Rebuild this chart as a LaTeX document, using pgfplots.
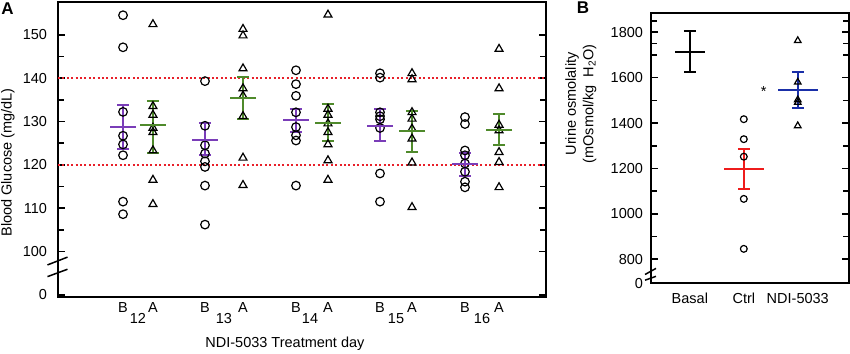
\documentclass[border=0pt]{standalone}
\usepackage{pgfplots}
\pgfplotsset{compat=1.18}
\usepackage{fontspec}
\setmainfont{Liberation Sans}
\definecolor{bpurple}{HTML}{7A3DB8}
\definecolor{agreen}{HTML}{4F8A2B}
\definecolor{limred}{HTML}{E8202A}
\definecolor{cred}{HTML}{EE1C1C}
\definecolor{nblue}{HTML}{1A2FA8}
\pgfplotsset{
  meanstyle/.style 2 args={only marks, color=#2, mark=-, mark size=#1, mark options={line width=2pt, #2},
    error bars/.cd, y dir=both, y explicit,
    error bar style={line width=2pt, #2},
    error mark options={rotate=90, line width=2pt, mark size=6pt, #2}},
  circ/.style={only marks, mark=o, mark size=#1, mark options={line width=1.2pt, black}},
  tri/.style={only marks, mark=triangle, mark size=#1, mark options={line width=1.2pt, black}},
}
\begin{document}
\fontsize{14.5}{17.5}\selectfont
\begin{tikzpicture}
\useasboundingbox (0,0) rectangle (850pt,353pt);
% ---------------- Panel A ----------------
\begin{axis}[
  at={(58pt,56pt)}, anchor=south west,
  scale only axis, width=488pt, height=295pt,
  xmin=11.07, xmax=16.744, ymin=89.5, ymax=157.55,
  axis line style={line width=1.8pt},
  tick align=inside,
  ytick={90,100,110,120,130,140,150},
  yticklabels={0,100,110,120,130,140,150},
  minor ytick={105,115,125,135,145},
  major tick length=7pt, minor tick length=6pt,
  tick style={line width=1.6pt, black},
  yticklabel style={xshift=-6pt},
  /pgf/number format/assume math mode=true,
  xtick={11.826,12.174,12.779,13.221,13.837,14.209,14.814,15.186,15.802,16.198},
  xticklabels={B,A,B,A,B,A,B,A,B,A},
  xtick style={draw=none},
  extra x ticks={12,13,14,15,16},
  extra x tick labels={12,13,14,15,16},
  extra x tick style={major tick length=0pt, tick label style={yshift=-11pt}},
  xlabel={NDI-5033 Treatment day},
  xlabel style={at={(axis description cs:0.465,-0.159)}, anchor=center},
  ylabel={Blood Glucose (mg/dL)},
  ylabel style={at={(axis description cs:-0.1025,0.456)}, anchor=center, rotate=0},
  clip=false,
]
\addplot[limred, line width=2pt, dash pattern=on 2pt off 2.4pt] coordinates {(11.07,140) (16.744,140)};
\addplot[limred, line width=2pt, dash pattern=on 2pt off 2.4pt] coordinates {(11.07,120) (16.744,120)};
% Before (circles)
\addplot[circ=4.3pt] coordinates {
 (11.826,154.5) (11.826,147.1) (11.826,132.2) (11.826,126.7) (11.826,124.7) (11.826,122.2) (11.826,111.5) (11.826,108.6)
 (12.779,139.3) (12.779,129.0) (12.779,124.5) (12.779,122.6) (12.779,120.8) (12.779,119.5) (12.779,115.2) (12.779,106.2)
 (13.837,141.8) (13.837,138.6) (13.837,135.9) (13.837,132.1) (13.837,128.7) (13.837,126.8) (13.837,125.6) (13.837,115.2)
 (14.814,141.1) (14.814,140.1) (14.814,132.1) (14.814,131.2) (14.814,130.5) (14.814,128.5) (14.814,118.0) (14.814,111.5)
 (15.802,131.0) (15.802,129.4) (15.802,123.3) (15.802,122.2) (15.802,120.3) (15.802,118.4) (15.802,116.1) (15.802,114.8)
};
% After (triangles)
\addplot[tri=4.6pt] coordinates {
 (12.174,152.4) (12.174,133.5) (12.174,131.5) (12.174,128.5) (12.174,127.5) (12.174,123.3) (12.174,116.5) (12.174,110.9)
 (13.221,151.3) (13.221,149.8) (13.221,142.2) (13.221,137.6) (13.221,135.9) (13.221,131.2) (13.221,121.6) (13.221,115.3)
 (14.209,154.6) (14.209,132.9) (14.209,131.5) (14.209,129.5) (14.209,127.5) (14.209,124.7) (14.209,121.0) (14.209,116.5)
 (15.186,141.1) (15.186,139.7) (15.186,132.1) (15.186,130.6) (15.186,128.3) (15.186,126.0) (15.186,120.5) (15.186,110.2)
 (16.198,146.7) (16.198,137.6) (16.198,129.2) (16.198,127.9) (16.198,122.9) (16.198,120.6) (16.198,114.8)
};
% means +- SEM
\addplot[meanstyle={13pt}{bpurple}] coordinates {
 (11.826,128.6) += (0,5.2) -= (0,4.9)
 (12.779,125.8) += (0,3.8) -= (0,3.6)
 (13.837,130.3) += (0,2.6) -= (0,2.8)
 (14.814,129.0) += (0,3.9) -= (0,3.6)
 (15.802,120.1) += (0,2.6) -= (0,2.8)
};
\addplot[meanstyle={13pt}{agreen}] coordinates {
 (12.174,129.2) += (0,5.4) -= (0,6.4)
 (13.221,135.4) += (0,4.8) -= (0,4.8)
 (14.209,129.6) += (0,4.4) -= (0,4.0)
 (15.186,127.7) += (0,4.8) -= (0,4.8)
 (16.198,128.1) += (0,3.6) -= (0,3.5)
};
% axis break marks
\draw[line width=1.5pt] ([xshift=-10.5pt]axis cs:11.07,96.9) -- ([xshift=9.5pt]axis cs:11.07,98.7);
\draw[line width=1.5pt] ([xshift=-10.5pt]axis cs:11.07,94.2) -- ([xshift=9.5pt]axis cs:11.07,95.9);
\end{axis}
\node[font=\fontsize{17}{20}\selectfont\bfseries] at (7.5pt,344pt) {A};
% ---------------- Panel B ----------------
\begin{axis}[
  at={(651pt,69.7pt)}, anchor=south west,
  scale only axis, width=198pt, height=270.6pt,
  xmin=0.28, xmax=3.95, ymin=694.3, ymax=1886,
  axis line style={line width=1.8pt},
  tick align=inside,
  ytick={694.3,800,1000,1200,1400,1600,1800},
  yticklabels={0,800,1000,1200,1400,1600,1800},
  minor ytick={900,1100,1300,1500,1700,1750,1850},
  major tick length=7pt, minor tick length=6pt,
  tick style={line width=1.6pt, black},
  yticklabel style={xshift=-3pt},
  xtick={1,2,3},
  xticklabels={Basal,Ctrl,NDI-5033},
  xtick style={draw=none},
  xticklabel style={yshift=-5pt},
  ylabel={Urine osmolality\\(mOsmol/kg\ \ H\textsubscript{2}O)},
  ylabel style={at={(axis description cs:-0.354,0.663)}, anchor=center, align=center, rotate=0},
  clip=false,
]
\addplot[circ=3.4pt] coordinates {(2,1417) (2,1329) (2,1252) (2,1066) (2,846)};
\addplot[tri=3.8pt] coordinates {(3,1763) (3,1580) (3,1502) (3,1491) (3,1388)};
\addplot[meanstyle={15pt}{black}] coordinates {(1,1714) += (0,92) -= (0,87)};
\addplot[meanstyle={20pt}{cred}] coordinates {(2,1197) += (0,88) -= (0,88)};
\addplot[meanstyle={20pt}{nblue}] coordinates {(3,1546) += (0,80) -= (0,80)};
\node[anchor=base, inner sep=0pt] at (axis cs:2.37,1515) {*};
\draw[line width=1.5pt] ([xshift=-6pt]axis cs:0.28,733) -- ([xshift=5pt]axis cs:0.28,760);
\draw[line width=1.5pt] ([xshift=-6pt]axis cs:0.28,708) -- ([xshift=5pt]axis cs:0.28,725);
\end{axis}
\node[font=\fontsize{17}{20}\selectfont\bfseries] at (583pt,345pt) {B};
\end{tikzpicture}
\end{document}
